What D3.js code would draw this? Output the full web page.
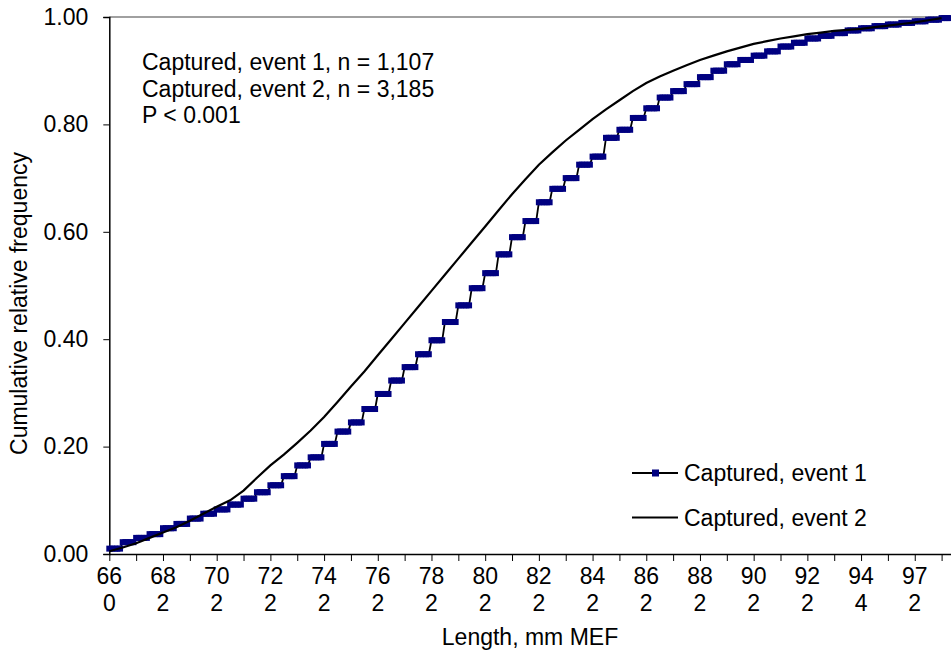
<!DOCTYPE html>
<html><head><meta charset="utf-8">
<script src="https://cdn.jsdelivr.net/npm/d3@7/dist/d3.min.js"></script>
<style>body{margin:0;background:#fff}svg{display:block}text{font-family:Arial,"Liberation Sans",sans-serif;fill:#000}</style>
</head><body><svg id="c" width="951" height="655"></svg>
<script>
// Category axis: one category per distinct length, tick every 10 categories, label every 20
const xTickLabels = ["660","682","702","722","742","762","782","802","822","842","862","882","902","922","944","972"];
const yTicks = [0, 0.2, 0.4, 0.6, 0.8, 1.0];
// Event 1: cumulative level of each 5-category step
const event1Steps = [0.010,0.022,0.030,0.037,0.048,0.056,0.066,0.075,0.083,0.092,
  0.103,0.115,0.128,0.145,0.165,0.180,0.205,0.228,0.245,0.270,
  0.298,0.323,0.348,0.372,0.398,0.432,0.463,0.495,0.523,0.558,
  0.590,0.620,0.655,0.680,0.700,0.725,0.740,0.775,0.790,0.812,
  0.830,0.850,0.862,0.875,0.888,0.900,0.912,0.920,0.928,0.936,
  0.945,0.952,0.960,0.965,0.970,0.975,0.979,0.983,0.986,0.989,
  0.992,0.995,0.998];
// Event 2: cumulative frequency at start of each 5-category step
const event2Values = [0.005,0.012,0.020,0.030,0.040,0.050,0.062,0.075,0.088,0.100,
  0.118,0.142,0.165,0.185,0.207,0.230,0.255,0.283,0.312,0.340,
  0.370,0.400,0.430,0.460,0.490,0.520,0.550,0.580,0.610,0.640,
  0.670,0.698,0.725,0.748,0.770,0.790,0.810,0.828,0.845,0.862,
  0.877,0.889,0.900,0.910,0.920,0.928,0.936,0.943,0.950,0.955,
  0.960,0.964,0.968,0.971,0.974,0.976,0.978,0.981,0.984,0.987,
  0.990,0.994,0.998];
const annotation = ["Captured, event 1, n = 1,107","Captured, event 2, n = 3,185","P < 0.001"];
const seriesNames = ["Captured, event 1","Captured, event 2"];

(function () {
const svg = d3.select("#c");
const pL = 109.3, pR = 951, pT = 17, pB = 554;
const x = d3.scaleLinear().domain([0, 313.5]).range([pL, pR]);
const y = d3.scaleLinear().domain([0, 1]).range([pB, pT]);
const FS = 23;

// top border (gray)
svg.append("line").attr("x1", pL).attr("x2", pR).attr("y1", y(1)).attr("y2", y(1))
  .attr("stroke", "#808080").attr("stroke-width", 1.5);

// Y axis
const yAxis = svg.append("g").attr("transform", `translate(${pL},0)`)
  .call(d3.axisLeft(y).tickValues(yTicks).tickFormat(d3.format(".2f")).tickSize(6).tickPadding(15));
yAxis.select(".domain").attr("stroke", "#000").attr("stroke-width", 1.5);
yAxis.selectAll(".tick line").attr("stroke", "#000");
yAxis.selectAll(".tick text").style("font-size", FS + "px").attr("fill", "#000").style("font-family", "Arial, 'Liberation Sans', sans-serif");

// X axis
const xTickVals = d3.range(0, 314, 10);
const xAxis = svg.append("g").attr("transform", `translate(0,${pB})`)
  .call(d3.axisBottom(x).tickValues(xTickVals).tickFormat("").tickSize(7).tickSizeOuter(0));
xAxis.select(".domain").attr("stroke", "#000").attr("stroke-width", 1.5);
xAxis.selectAll(".tick line").attr("stroke", "#000");
xTickLabels.forEach((lab, i) => {
  const t = svg.append("text").attr("x", x(i * 20)).attr("text-anchor", "middle").style("font-size", FS + "px");
  t.append("tspan").attr("x", x(i * 20)).attr("y", 584).text(lab.slice(0, 2));
  t.append("tspan").attr("x", x(i * 20)).attr("y", 611).text(lab.slice(2));
});

// Axis titles
svg.append("text").attr("x", 530).attr("y", 645).attr("text-anchor", "middle").style("font-size", FS + "px").text("Length, mm MEF");
svg.append("text").attr("transform", `translate(27,${(pT + pB) / 2 + 18}) rotate(-90)`).attr("text-anchor", "middle")
  .style("font-size", FS + "px").text("Cumulative relative frequency");

// Event 1 points: each step repeated over its 5 categories
const e1pts = [];
event1Steps.forEach((v, k) => { for (let j = 0; j < 5; j++) { const c = k * 5 + j; if (c <= 313) e1pts.push([c, v]); } });
const line = d3.line().x(d => x(d[0])).y(d => y(d[1]));
svg.append("path").datum(e1pts).attr("d", line).attr("fill", "none").attr("stroke", "#000").attr("stroke-width", 1.8);
svg.append("g").selectAll("rect").data(e1pts).join("rect")
  .attr("x", d => x(d[0]) - 3).attr("y", d => y(d[1]) - 3).attr("width", 6).attr("height", 6).attr("fill", "#000080");

// Event 2
const e2pts = event2Values.map((v, k) => [Math.min(k * 5, 313), v]);
svg.append("path").datum(e2pts).attr("d", line).attr("fill", "none").attr("stroke", "#000").attr("stroke-width", 2.2);

// Annotation
annotation.forEach((s, i) => svg.append("text").attr("x", 142).attr("y", 70 + i * 26.7).style("font-size", FS + "px").text(s));

// Legend
const lg = svg.append("g");
seriesNames.forEach((s, i) => {
  const ly = 473 + i * 44.5;
  lg.append("line").attr("x1", 632).attr("x2", 678).attr("y1", ly).attr("y2", ly).attr("stroke", "#000").attr("stroke-width", 2);
  if (i === 0) lg.append("rect").attr("x", 652).attr("y", ly - 3.5).attr("width", 7).attr("height", 7).attr("fill", "#000080");
  lg.append("text").attr("x", 684).attr("y", ly + 8).style("font-size", FS + "px").text(s);
});
})();
</script></body></html>
